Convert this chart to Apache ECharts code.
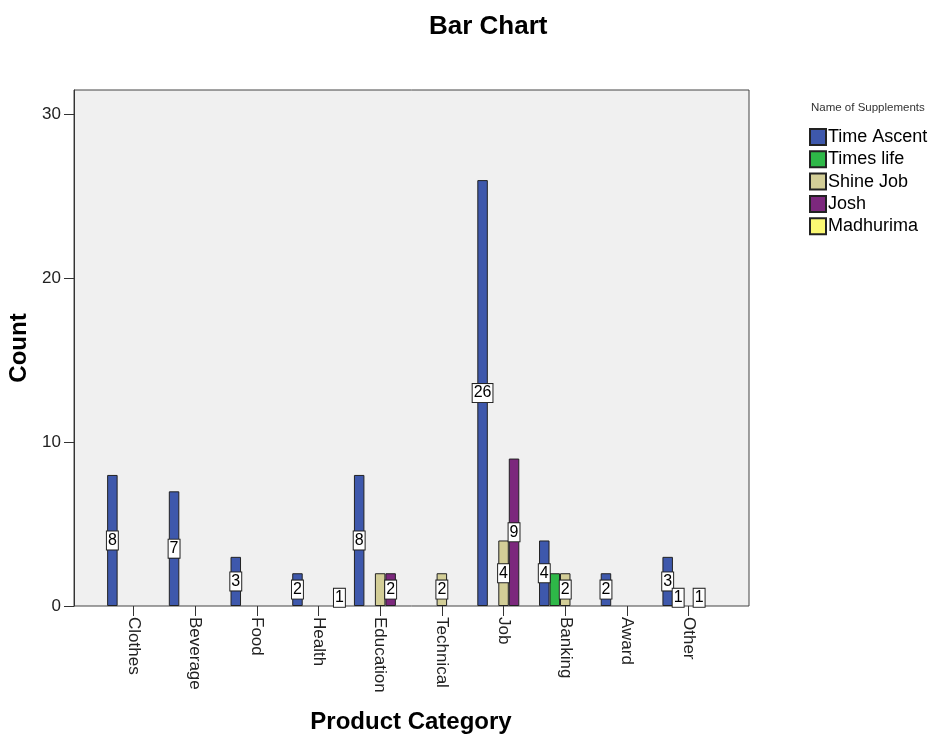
<!DOCTYPE html>
<html>
<head>
<meta charset="utf-8">
<script src="https://cdn.jsdelivr.net/npm/echarts@6/dist/echarts.min.js"></script>
<style>
  html, body { margin: 0; padding: 0; background: #fff; }
  #chart { width: 930px; height: 737px; }
</style>
</head>
<body>
<div id="chart"></div>
<script>
// categories on the x axis
const categories = ['Clothes', 'Beverage', 'Food', 'Health', 'Education', 'Technical', 'Job', 'Banking', 'Award', 'Other'];

// counts per supplement, one value per category
const timeAscent = [8, 7, 3, 2, 8, 0, 26, 4, 2, 3];
const timesLife  = [0, 0, 0, 0, 0, 0, 0, 2, 0, 1];
const shineJob   = [0, 0, 0, 0, 2, 2, 4, 2, 0, 0];
const josh       = [0, 0, 0, 0, 2, 0, 9, 0, 0, 1];
const madhurima  = [0, 0, 0, 1, 0, 0, 0, 0, 0, 0];

const seriesNames = ['Time Ascent', 'Times life', 'Shine Job', 'Josh', 'Madhurima'];
const seriesValues = [timeAscent, timesLife, shineJob, josh, madhurima];
const seriesColors = ['#3e58ac', '#2eb848', '#d3ce97', '#7c287d', '#fbf873'];

// y tick labels
const yTicks = [0, 10, 20, 30];

// labels that the original hides because they overlap a neighbour
const hiddenLabels = [['Education', 'Shine Job'], ['Banking', 'Times life']];

const font = 'Liberation Sans, Arial, sans-serif';
const yMax = 31.5;

function buildData(name, values) {
  return values.map((v, i) => {
    if (v === 0) return '-';
    const hide = hiddenLabels.some(h => h[0] === categories[i] && h[1] === name);
    return hide ? { value: v, label: { show: false } } : v;
  });
}

const series = seriesNames.map((name, k) => ({
  name: name,
  type: 'bar',
  xAxisIndex: 1,
  yAxisIndex: 1,
  barGap: '0%',
  barCategoryGap: '15%',
  itemStyle: { color: seriesColors[k], borderColor: '#222', borderWidth: 1 },
  label: {
    show: true,
    position: 'inside',
    color: '#000',
    fontFamily: font,
    fontSize: 16,
    backgroundColor: '#fff',
    borderColor: '#222',
    borderWidth: 1,
    padding: [1, 1, 1, 1]
  },
  data: buildData(name, seriesValues[k])
}));

const chart = echarts.init(document.getElementById('chart'));
chart.setOption({
  backgroundColor: '#fff',
  animation: false,
  title: [
    {
      text: 'Bar Chart',
      left: 424,
      top: 9,
      textStyle: { fontFamily: font, fontSize: 26, fontWeight: 'bold', color: '#000' }
    },
    {
      text: 'Name of Supplements',
      left: 806,
      top: 97,
      textStyle: { fontFamily: font, fontSize: 11.5, fontWeight: 'normal', color: '#333' }
    }
  ],
  legend: {
    orient: 'vertical',
    left: 804,
    top: 123,
    icon: 'rect',
    itemWidth: 16,
    itemHeight: 16,
    itemGap: 4.3,
    textStyle: { fontFamily: font, fontSize: 18, color: '#000', padding: [0, 0, 0, -3] },
    data: seriesNames
  },
  grid: [
    // frame with grey background
    { left: 74, top: 90, width: 675, height: 516, outerBoundsMode: 'none', show: true, backgroundColor: '#f0f0f0', borderColor: '#444', borderWidth: 1 },
    // inner grid holding the bars
    { left: 102.5, top: 90, width: 617, height: 516, outerBoundsMode: 'none' }
  ],
  xAxis: [
    { gridIndex: 0, type: 'value', show: false },
    {
      gridIndex: 1,
      type: 'category',
      data: categories,
      axisLine: { show: false },
      axisTick: { show: true, alignWithLabel: true, length: 10, lineStyle: { color: '#333' } },
      axisLabel: { rotate: -90, margin: 11, fontFamily: font, fontSize: 17, color: '#222' },
      name: 'Product Category',
      nameLocation: 'middle',
      nameGap: 104,
      nameTextStyle: { fontFamily: font, fontSize: 24, fontWeight: 'bold', color: '#000' }
    }
  ],
  yAxis: [
    {
      gridIndex: 0,
      type: 'value',
      min: 0,
      max: yMax,
      interval: 10,
      splitLine: { show: false },
      axisLine: { show: true, lineStyle: { color: '#333' } },
      axisTick: { show: true, length: 10, customValues: yTicks, lineStyle: { color: '#333' } },
      axisLabel: { customValues: yTicks, margin: 13, fontFamily: font, fontSize: 17, color: '#222' },
      name: 'Count',
      nameLocation: 'middle',
      nameGap: 35,
      nameTextStyle: { fontFamily: font, fontSize: 24, fontWeight: 'bold', color: '#000' }
    },
    { gridIndex: 1, type: 'value', min: 0, max: yMax, show: false }
  ],
  series: series
});
</script>
</body>
</html>
